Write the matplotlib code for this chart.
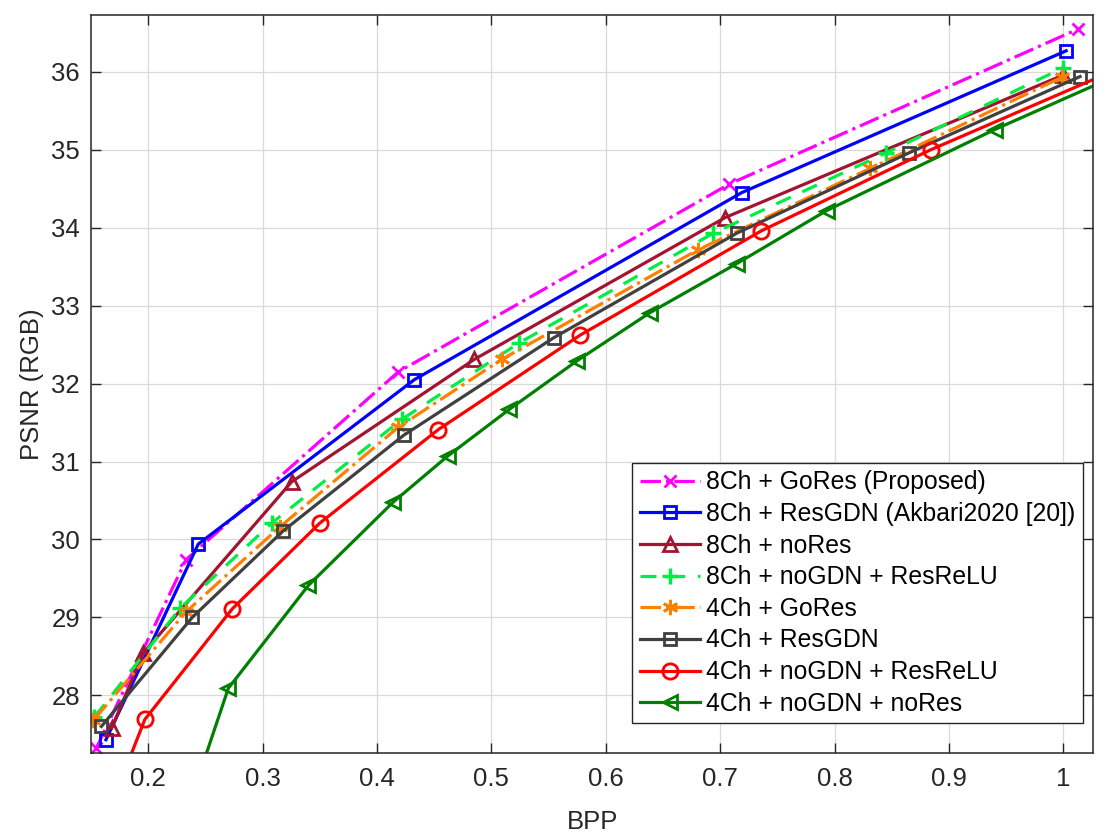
import matplotlib.pyplot as plt
import numpy as np
from matplotlib.ticker import FormatStrFormatter, FuncFormatter

plt.rcParams['font.family'] = ['Liberation Sans', 'DejaVu Sans']

# Dane (BPP, PSNR)
x_gores8 = [0.1545, 0.233, 0.4186, 0.708, 1.013]
y_gores8 = [27.32, 29.74, 32.15, 34.56, 36.55]

x_resgdn8 = [0.163, 0.2437, 0.4326, 0.7188, 1.0024]
y_resgdn8 = [27.43, 29.94, 32.05, 34.45, 36.27]

x_nores8 = [0.168, 0.1956, 0.3254, 0.485, 0.7043, 1.0]
y_nores8 = [27.58, 28.54, 30.74, 32.31, 34.13, 35.96]

x_relu8 = [0.153, 0.228, 0.308, 0.4216, 0.524, 0.694, 0.845, 0.9995]
y_relu8 = [27.72, 29.12, 30.21, 31.54, 32.52, 33.93, 34.96, 36.05]

x_gores4 = [0.152, 0.233, 0.315, 0.4186, 0.509, 0.681, 0.831, 0.9986]
y_gores4 = [27.68, 29.07, 30.16, 31.44, 32.31, 33.72, 34.76, 35.93]

x_resgdn4 = [0.159, 0.2385, 0.318, 0.4236, 0.5547, 0.7145, 0.865, 1.0146]
y_resgdn4 = [27.6, 29.0, 30.11, 31.34, 32.59, 33.93, 34.96, 35.94]

x_relu4 = [0.17, 0.197, 0.2735, 0.350, 0.4536, 0.5774, 0.736, 0.884, 1.04]
y_relu4 = [26.68, 27.69, 29.11, 30.21, 31.41, 32.62, 33.96, 35.0, 35.99]

x_nores4 = [0.24, 0.27, 0.34, 0.4142, 0.4618, 0.5157, 0.5746, 0.6386, 0.7145, 0.793, 0.94, 1.04]
y_nores4 = [26.78, 28.09, 29.41, 30.48, 31.07, 31.67, 32.29, 32.91, 33.54, 34.22, 35.26, 35.91]

labels = [
    "8Ch + GoRes (Proposed)",
    "8Ch + ResGDN (Akbari2020 [20])",
    "8Ch + noRes",
    "8Ch + noGDN + ResReLU",
    "4Ch + GoRes",
    "4Ch + ResGDN",
    "4Ch + noGDN + ResReLU",
    "4Ch + noGDN + noRes",
]

fig = plt.figure(figsize=(11.2, 8.4), dpi=100)
ax = fig.add_axes([0.0813, 0.1036, 0.8947, 0.8786])

lw = 2.3
ms = 9
asterisk = (6, 2, 0)
ax.plot(x_gores8, y_gores8, "-.", marker="x", color="#ff00ff", lw=lw, ms=ms, mew=2, label=labels[0])
ax.plot(x_resgdn8, y_resgdn8, "-", marker="s", color="#0000ff", lw=lw, ms=ms, mew=2, mfc="none", label=labels[1])
ax.plot(x_nores8, y_nores8, "-", marker="^", color="#a2142f", lw=lw, ms=ms + 1, mew=2, mfc="none", label=labels[2])
ax.plot(x_relu8, y_relu8, "--", marker="+", color="#00ee44", lw=lw, ms=ms + 2, mew=2.5, label=labels[3], dashes=(5, 4))
ax.plot(x_gores4, y_gores4, "-.", marker=asterisk, color="#ff8000", lw=lw, ms=ms + 2, mew=2, label=labels[4])
ax.plot(x_resgdn4, y_resgdn4, "-", marker="s", color="#404040", lw=lw, ms=ms, mew=2, mfc="none", label=labels[5])
ax.plot(x_relu4, y_relu4, "-", marker="o", color="#ff0000", lw=lw, ms=ms + 2, mew=2, mfc="none", label=labels[6])
ax.plot(x_nores4, y_nores4, "-", marker="<", color="#008000", lw=lw, ms=ms + 1, mew=2, mfc="none", label=labels[7])

ax.set_xlim(0.15, 1.026)
ax.set_ylim(27.26, 36.73)
ax.set_xticks(np.arange(0.2, 1.01, 0.1))
ax.set_yticks(np.arange(28, 37, 1))
ax.xaxis.set_major_formatter(FuncFormatter(lambda v, p: f"{v:g}"))
ax.yaxis.set_major_formatter(FormatStrFormatter("%d"))

ax.grid(True, color="#d9d9d9", lw=0.9)
ax.set_axisbelow(True)
ax.tick_params(direction="in", length=7, width=1, top=True, right=True,
               labelsize=18.5, colors="#262626")
ax.tick_params(axis="x", pad=10)
ax.tick_params(axis="y", pad=8)
for s in ax.spines.values():
    s.set_color("#262626")
    s.set_linewidth(1.1)

ax.set_xlabel("BPP", fontsize=18.5, color="#262626", labelpad=14)
ax.set_ylabel("PSNR (RGB)", fontsize=18.5, color="#262626", labelpad=5)

leg = ax.legend(loc="lower right", bbox_to_anchor=(0.967, 0.139), bbox_transform=fig.transFigure,
                fontsize=17.8, fancybox=False, framealpha=1, edgecolor="#262626",
                handlelength=2.45, handletextpad=0.25, labelspacing=0.31, borderaxespad=0,
                borderpad=0.3)
leg.get_frame().set_linewidth(1.0)

plt.savefig("out.png", dpi=100)
